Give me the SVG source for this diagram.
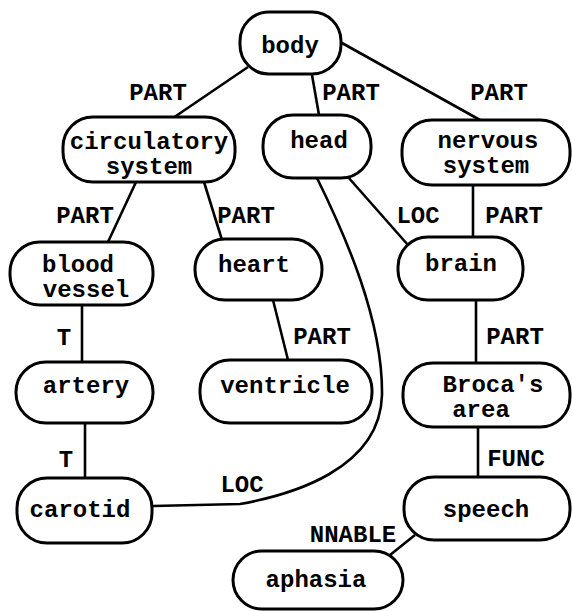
<svg xmlns="http://www.w3.org/2000/svg" width="572" height="611" viewBox="0 0 572 611">
<style>
.n{fill:#fff;stroke:#000;stroke-width:3}
.t{font-family:"Liberation Mono","Courier New",monospace;font-size:24px;font-weight:bold;fill:#000;text-anchor:middle}
.l{font-family:"Liberation Mono","Courier New",monospace;font-size:24px;font-weight:bold;fill:#000;text-anchor:middle}
.e{fill:none;stroke:#000;stroke-width:2.6}
</style>
<rect width="572" height="611" fill="#fff"/>
<g id="connectors">
<line class="e" x1="248" y1="67" x2="173" y2="118"/>
<line class="e" x1="312" y1="75" x2="319" y2="115"/>
<line class="e" x1="342" y1="43" x2="480" y2="120"/>
<line class="e" x1="136" y1="182" x2="108" y2="242"/>
<line class="e" x1="204" y1="182" x2="222" y2="240"/>
<line class="e" x1="82" y1="305" x2="82" y2="362"/>
<line class="e" x1="273" y1="300" x2="288" y2="360"/>
<line class="e" x1="348" y1="177" x2="408" y2="245"/>
<path class="e" d="M317,178 C345,235 383,320 382,395 C380,470 290,495 240,504 L153,506"/>
<line class="e" x1="473" y1="185" x2="473" y2="237"/>
<line class="e" x1="476" y1="300" x2="476" y2="363"/>
<line class="e" x1="478" y1="427" x2="478" y2="477"/>
<line class="e" x1="415" y1="535" x2="390" y2="555"/>
<line class="e" x1="85" y1="423" x2="85" y2="478"/>
<text class="l" x="158" y="100">PART</text>
<text class="l" x="351" y="100">PART</text>
<text class="l" x="499" y="100">PART</text>
<text class="l" x="85" y="223">PART</text>
<text class="l" x="246" y="223">PART</text>
<text class="l" x="64" y="345">T</text>
<text class="l" x="322" y="344">PART</text>
<text class="l" x="418" y="223">LOC</text>
<text class="l" x="514" y="223">PART</text>
<text class="l" x="515" y="344">PART</text>
<text class="l" x="66" y="467">T</text>
<text class="l" x="242" y="492">LOC</text>
<text class="l" x="516" y="466">FUNC</text>
<text class="l" x="353" y="542">NNABLE</text>
</g>
<g id="body"><rect class="n" x="240" y="12" width="101" height="62" rx="29"/><text class="t" x="290" y="53">body</text></g>
<g id="circulatory"><rect class="n" x="63" y="117" width="172" height="65" rx="30"/><text class="t" x="149" y="149">circulatory</text><text class="t" x="149" y="174">system</text></g>
<g id="head"><rect class="n" x="263" y="115" width="108" height="63" rx="30"/><text class="t" x="319" y="148">head</text></g>
<g id="nervous"><rect class="n" x="402" y="120" width="168" height="65" rx="30"/><text class="t" x="488" y="148">nervous</text><text class="t" x="486" y="173">system</text></g>
<g id="blood"><rect class="n" x="10" y="242" width="143" height="63" rx="30"/><text class="t" x="78" y="272">blood</text><text class="t" x="86" y="297">vessel</text></g>
<g id="heart"><rect class="n" x="195" y="239" width="127" height="61" rx="30"/><text class="t" x="254" y="272">heart</text></g>
<g id="brain"><rect class="n" x="398" y="237" width="125" height="63" rx="30"/><text class="t" x="461" y="271">brain</text></g>
<g id="artery"><rect class="n" x="16" y="362" width="137" height="61" rx="30"/><text class="t" x="86" y="393">artery</text></g>
<g id="ventricle"><rect class="n" x="200" y="360" width="172" height="63" rx="30"/><text class="t" x="285" y="393">ventricle</text></g>
<g id="broca"><rect class="n" x="403" y="363" width="167" height="64" rx="30"/><text class="t" x="493" y="392">Broca's</text><text class="t" x="481" y="417">area</text></g>
<g id="carotid"><rect class="n" x="17" y="478" width="135" height="65" rx="30"/><text class="t" x="80" y="517">carotid</text></g>
<g id="speech"><rect class="n" x="404" y="477" width="166" height="63" rx="30"/><text class="t" x="486" y="517">speech</text></g>
<g id="aphasia"><rect class="n" x="233" y="551" width="170" height="58" rx="29"/><text class="t" x="316" y="587">aphasia</text></g>
</svg>
